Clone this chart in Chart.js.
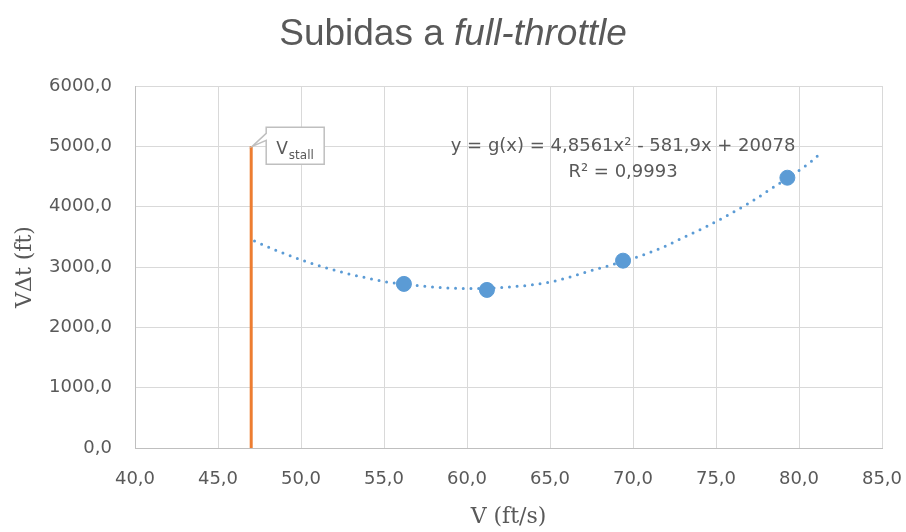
<!DOCTYPE html>
<html lang="es">
<head>
<meta charset="UTF-8">
<title>Subidas a full-throttle</title>
<script src="https://cdn.jsdelivr.net/npm/chart.js"></script>
<style>
  body { margin: 0; background: #fff; }
  #wrap { width: 906px; height: 532px; }
</style>
</head>
<body>
<div id="wrap"><canvas id="chart" width="906" height="532"></canvas></div>
<script>
  // puntos medidos: V (ft/s) y VΔt (ft)
  const velocidades = [56.2, 61.2, 69.4, 79.3];
  const distancias = [2720, 2620, 3105, 4480];

  // línea de tendencia
  const tendenciaX = [47.2, 48.6, 50.0, 51.4, 52.8, 54.3, 55.2, 57.2, 60.0, 62.5, 65.0, 67.4, 69.9, 71.8, 73.1, 74.5, 75.8, 77.1, 78.3, 80.8, 81.3];
  const tendenciaY = [3430, 3265, 3120, 2995, 2890, 2800, 2750, 2687, 2642, 2668, 2750, 2935, 3134, 3328, 3498, 3680, 3874, 4078, 4293, 4762, 4889];

  // velocidad de pérdida
  const vStall = 47.0;
  const vStallY = [0, 5000];

  const titulo = 'Subidas a ';
  const tituloItalica = 'full-throttle';
  const ecuacion = 'y = g(x) = 4,8561x² - 581,9x + 20078';
  const r2 = 'R² = 0,9993';
  const ejeX = 'V (ft/s)';
  const ejeY = 'VΔt (ft)';

  const gris = '#595959';
  const fmt = v => v.toFixed(1).replace('.', ',');

  const puntos = velocidades.map((v, i) => ({ x: v, y: distancias[i] }));
  const tendencia = tendenciaX.map((v, i) => ({ x: v, y: tendenciaY[i] }));
  const stall = vStallY.map(y => ({ x: vStall, y: y }));

  // título con parte en cursiva
  const tituloPlugin = {
    id: 'tituloMixto',
    afterDraw(chart) {
      const ctx = chart.ctx;
      ctx.save();
      ctx.fillStyle = gris;
      ctx.textBaseline = 'alphabetic';
      ctx.font = '37px "Liberation Sans", Arial, sans-serif';
      const w1 = ctx.measureText(titulo).width;
      ctx.font = 'italic 37px "Liberation Sans", Arial, sans-serif';
      const w2 = ctx.measureText(tituloItalica).width;
      let x = chart.width / 2 - (w1 + w2) / 2;
      ctx.font = '37px "Liberation Sans", Arial, sans-serif';
      ctx.fillText(titulo, x, 45);
      ctx.font = 'italic 37px "Liberation Sans", Arial, sans-serif';
      ctx.fillText(tituloItalica, x + w1, 45);
      ctx.restore();
    }
  };

  // ecuación de la tendencia y etiqueta V_stall
  const etiquetasPlugin = {
    id: 'etiquetas',
    afterDatasetsDraw(chart) {
      const ctx = chart.ctx;
      const sx = chart.scales.x, sy = chart.scales.y;
      ctx.save();
      ctx.fillStyle = gris;
      ctx.font = '18px "DejaVu Sans", sans-serif';
      ctx.textAlign = 'center';
      ctx.textBaseline = 'alphabetic';
      const ex = sx.getPixelForValue(69.4);
      ctx.fillText(ecuacion, ex, sy.getPixelForValue(4930));
      ctx.fillText(r2, ex, sy.getPixelForValue(4500));

      // cuadro de llamada
      const ax = sx.getPixelForValue(vStall);
      const ay = sy.getPixelForValue(vStallY[1]);
      const l = ax + 15, r = ax + 73, t = ay - 19, b = ay + 18;
      ctx.beginPath();
      ctx.moveTo(l, t);
      ctx.lineTo(r, t);
      ctx.lineTo(r, b);
      ctx.lineTo(l, b);
      ctx.lineTo(l, ay - 6);
      ctx.lineTo(ax + 1, ay);
      ctx.lineTo(l, ay - 13);
      ctx.closePath();
      ctx.fillStyle = '#ffffff';
      ctx.fill();
      ctx.strokeStyle = '#bfbfbf';
      ctx.lineWidth = 1.5;
      ctx.stroke();

      ctx.fillStyle = gris;
      ctx.textAlign = 'left';
      ctx.font = '17px "DejaVu Sans", sans-serif';
      ctx.fillText('V', l + 10, ay + 8);
      const wv = ctx.measureText('V').width;
      ctx.font = '12px "DejaVu Sans", sans-serif';
      ctx.fillText('stall', l + 11 + wv, ay + 13);
      ctx.restore();
    }
  };

  new Chart(document.getElementById('chart'), {
    type: 'scatter',
    data: {
      datasets: [{
        label: 'Datos',
        data: puntos,
        backgroundColor: '#5b9bd5',
        borderColor: '#5b9bd5',
        pointRadius: 7.5,
        showLine: false
      }, {
        label: 'Tendencia',
        data: tendencia,
        showLine: true,
        borderColor: '#5b9bd5',
        borderWidth: 3,
        borderDash: [0, 7.7],
        borderCapStyle: 'round',
        cubicInterpolationMode: 'monotone',
        pointRadius: 0
      }, {
        label: 'Vstall',
        data: stall,
        showLine: true,
        borderColor: '#ed7d31',
        borderWidth: 3,
        pointRadius: 0
      }]
    },
    options: {
      responsive: false,
      animation: false,
      layout: { padding: { top: 86, right: 24, bottom: 0, left: 0 } },
      plugins: {
        legend: { display: false },
        tooltip: { enabled: false }
      },
      scales: {
        x: {
          type: 'linear',
          min: 40,
          max: 85,
          afterFit: s => { s.height = 84; s.paddingLeft = 0; s.paddingRight = 0; },
          ticks: {
            stepSize: 5,
            padding: 21,
            color: gris,
            font: { family: 'DejaVu Sans', size: 18 },
            callback: fmt
          },
          grid: { color: '#d9d9d9', drawTicks: false },
          border: { color: '#bfbfbf' },
          title: {
            display: true,
            text: ejeX,
            color: gris,
            font: { family: 'DejaVu Serif', size: 22 },
            padding: { top: 0, bottom: 2 }
          }
        },
        y: {
          min: 0,
          max: 6000,
          afterFit: s => { s.width = 135; s.paddingTop = 0; s.paddingBottom = 0; },
          ticks: {
            stepSize: 1000,
            padding: 23,
            color: gris,
            font: { family: 'DejaVu Sans', size: 18 },
            callback: fmt
          },
          grid: { color: '#d9d9d9', drawTicks: false },
          border: { color: '#bfbfbf' },
          title: {
            display: true,
            text: ejeY,
            color: gris,
            font: { family: 'DejaVu Serif', size: 22 },
            padding: { top: 12, bottom: 0 }
          }
        }
      }
    },
    plugins: [tituloPlugin, etiquetasPlugin]
  });
</script>
</body>
</html>
